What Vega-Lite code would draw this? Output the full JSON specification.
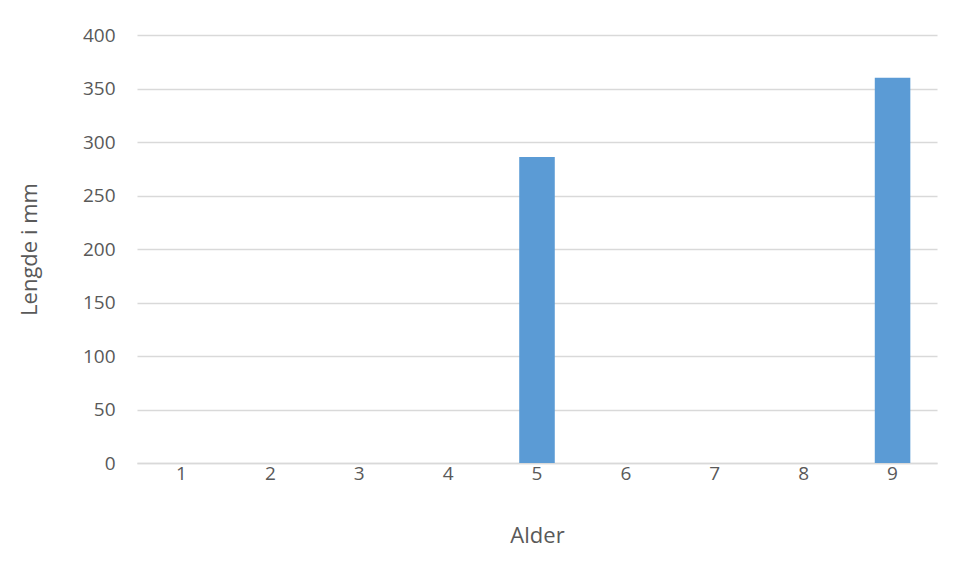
{
  "$schema": "https://vega.github.io/schema/vega-lite/v6.json",
  "width": 800,
  "height": 428,
  "autosize": {"type": "none"},
  "padding": {"left": 137, "top": 35, "right": 18, "bottom": 115},
  "background": "white",
  "config": {
    "view": {"stroke": null},
    "font": "Open Sans",
    "axis": {"labelColor": "#595959", "titleColor": "#595959", "labelFont": "Open Sans", "titleFont": "Open Sans", "titleFontWeight": "normal"}
  },
  "data": {
    "values": [
      {"Alder": 1, "Lengde": 0},
      {"Alder": 2, "Lengde": 0},
      {"Alder": 3, "Lengde": 0},
      {"Alder": 4, "Lengde": 0},
      {"Alder": 5, "Lengde": 286},
      {"Alder": 6, "Lengde": 0},
      {"Alder": 7, "Lengde": 0},
      {"Alder": 8, "Lengde": 0},
      {"Alder": 9, "Lengde": 360}
    ]
  },
  "mark": {"type": "bar", "color": "#5B9BD5"},
  "encoding": {
    "x": {
      "field": "Alder",
      "type": "ordinal",
      "title": "Alder",
      "scale": {"paddingInner": 0.6, "paddingOuter": 0.3},
      "axis": {
        "labelAngle": 0,
        "labelFontSize": 19,
        "labelPadding": 1,
        "titleFontSize": 22,
        "titlePadding": 42,
        "ticks": false,
        "domainColor": "#d9d9d9",
        "domainWidth": 1.5
      }
    },
    "y": {
      "field": "Lengde",
      "type": "quantitative",
      "title": "Lengde i mm",
      "scale": {"domain": [0, 400], "nice": false},
      "axis": {
        "values": [0, 50, 100, 150, 200, 250, 300, 350, 400],
        "labelFontSize": 19,
        "labelPadding": 22,
        "titleFontSize": 22,
        "titlePadding": 41,
        "ticks": false,
        "domain": false,
        "gridColor": "#d9d9d9",
        "gridWidth": 1.5
      }
    }
  }
}
